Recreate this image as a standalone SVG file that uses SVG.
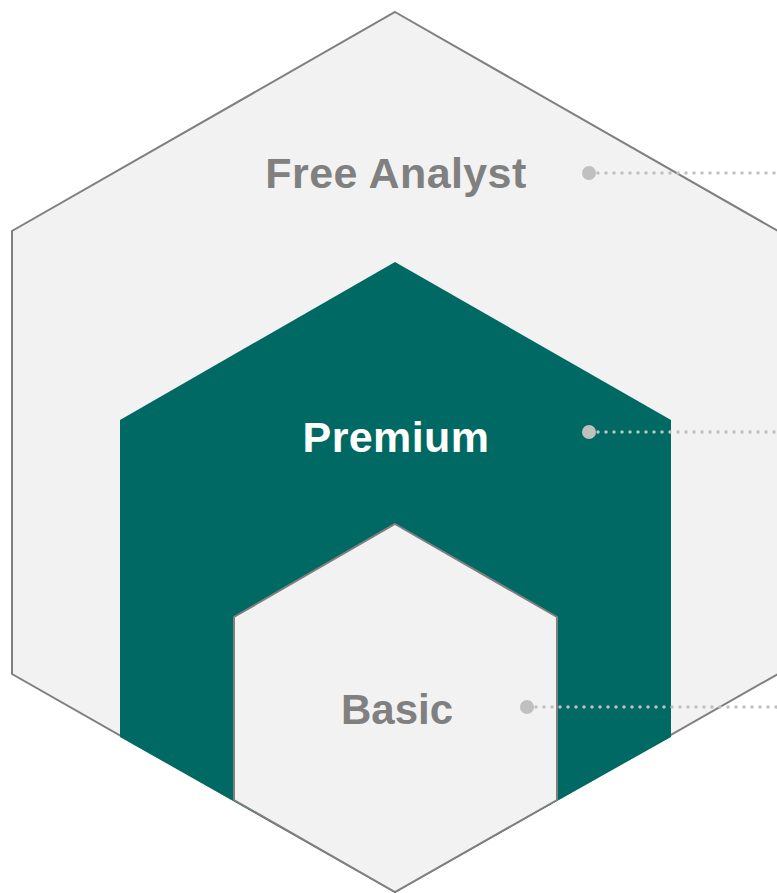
<svg xmlns="http://www.w3.org/2000/svg" width="777" height="893" viewBox="0 0 777 893">
<style>
.hex{fill:#f2f2f2;stroke:#7f7f7f;stroke-width:2;stroke-linejoin:miter}
.lbl{font-family:"Liberation Sans","Noto Sans",Arial,sans-serif;font-weight:bold;font-size:42px;text-anchor:middle}
.grey{fill:#808080}
.white{fill:#ffffff}
.dotline{stroke:#c0c0c0;stroke-width:3.5;stroke-linecap:round;stroke-dasharray:0 8;fill:none}
.dot{fill:#c0c0c0}
</style>
<g id="free-analyst">
<polygon class="hex" points="395,12 778,231 778,674 395,892 12,674 12,231"/>
<text class="lbl grey" x="396" y="188" style="font-size:43px;letter-spacing:0.4px">Free Analyst</text>
</g>
<g id="premium">
<polygon fill="#006963" points="395,262 671,420 671,737 395,892 120,737 120,420"/>
<text class="lbl white" x="396" y="452" style="font-size:43px;letter-spacing:0.4px">Premium</text>
</g>
<g id="basic">
<polygon class="hex" points="395,524 557,617 557,800 395,892 234,800 234,617"/>
<text class="lbl grey" x="397" y="724">Basic</text>
</g>
<g id="connectors">
<circle class="dot" cx="589" cy="173" r="7"/>
<line class="dotline" x1="598" y1="173" x2="777" y2="173"/>
<circle class="dot" cx="589" cy="432" r="7"/>
<line class="dotline" x1="598" y1="432" x2="777" y2="432"/>
<circle class="dot" cx="527" cy="707" r="7"/>
<line class="dotline" x1="536" y1="707" x2="777" y2="707"/>
</g>
</svg>
